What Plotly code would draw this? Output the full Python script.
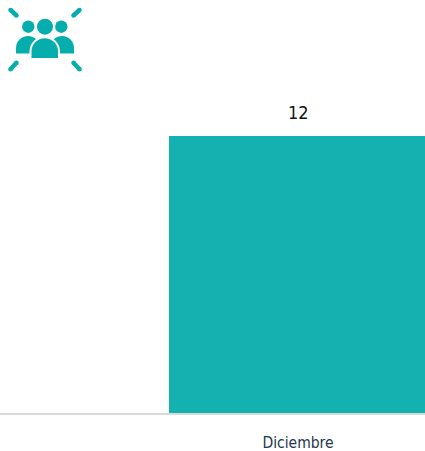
import plotly.graph_objects as go

categories = ["Diciembre"]
values = [12]
bar_color = "#14B1B0"
icon_color = "#06ADAD"

W, H = 425, 451
AXIS_Y = 413
FONT = "DejaVu Sans Condensed, Roboto"

fig = go.Figure(go.Bar(
    x=[0], y=values, width=[1], marker=dict(color=bar_color, line=dict(width=0)),
    hoverinfo="skip",
))


def px(x):
    return x / W


def py(y):
    return 1 - y / AXIS_Y


def dome(x0, x1, ytop, ybot, k=0.55):
    xm = (x0 + x1) / 2
    r = (x1 - x0) / 2
    ym = ytop + r
    p = f"M {px(x0)} {py(ybot)} L {px(x0)} {py(ym)} "
    p += f"C {px(x0)} {py(ym - k * r)} {px(xm - k * r)} {py(ytop)} {px(xm)} {py(ytop)} "
    p += f"C {px(xm + k * r)} {py(ytop)} {px(x1)} {py(ym - k * r)} {px(x1)} {py(ym)} "
    p += f"L {px(x1)} {py(ybot)} Z"
    return p


def circle(cx, cy, r):
    return dict(type="circle", xref="paper", yref="paper", x0=px(cx - r), x1=px(cx + r),
                y0=py(cy + r), y1=py(cy - r), fillcolor=icon_color, line=dict(width=0), layer="above")


shapes = []
for a, b, c, d in [(10.5, 10, 16.5, 15.5), (79.5, 10, 73.5, 15.5), (16.5, 62.7, 10.5, 69.3), (73.5, 62.7, 79.5, 69.3)]:
    shapes.append(dict(type="line", xref="paper", yref="paper", x0=px(a), y0=py(b), x1=px(c), y1=py(d),
                       line=dict(color=icon_color, width=4.5), layer="above"))
    shapes.append(circle(a, b, 2.25))
    shapes.append(circle(c, d, 2.25))
for x0, x1 in [(16, 40), (50, 74)]:
    shapes.append(dict(type="path", xref="paper", yref="paper", path=dome(x0, x1, 36, 53.5),
                       fillcolor=icon_color, line=dict(width=0), layer="above"))
shapes.append(dict(type="path", xref="paper", yref="paper", path=dome(30.5, 59, 37.2, 59),
                   fillcolor=icon_color, line=dict(color="white", width=2), layer="above"))
for cx, cy, r in [(28.3, 26.7, 6.2), (61.3, 26.7, 6.2), (45, 26.7, 8)]:
    shapes.append(circle(cx, cy, r))

fig.update_layout(
    width=W, height=H, margin=dict(l=0, r=0, t=0, b=H - AXIS_Y),
    paper_bgcolor="white", plot_bgcolor="white", showlegend=False, shapes=shapes,
    xaxis=dict(range=[-298 / 258, 127 / 258], tickmode="array", tickvals=[0], ticktext=categories,
               showgrid=False, zeroline=False, showline=True, linecolor="#D9D9D9", linewidth=2,
               automargin=False, ticks="", ticklen=0, ticklabelstandoff=14,
               tickfont=dict(family=FONT, size=15.5, color="#24384C")),
    yaxis=dict(range=[0, 12 * AXIS_Y / 277], visible=False, automargin=False),
    annotations=[dict(x=0, y=values[0], xref="x", yref="y", text=str(values[0]), showarrow=False,
                      yanchor="bottom", yshift=11, font=dict(family=FONT, size=18, color="#111111"))],
)
fig.write_html("out.html", config=dict(displayModeBar=False),
               post_script="document.body.style.margin='0';document.documentElement.style.overflow='hidden';")
